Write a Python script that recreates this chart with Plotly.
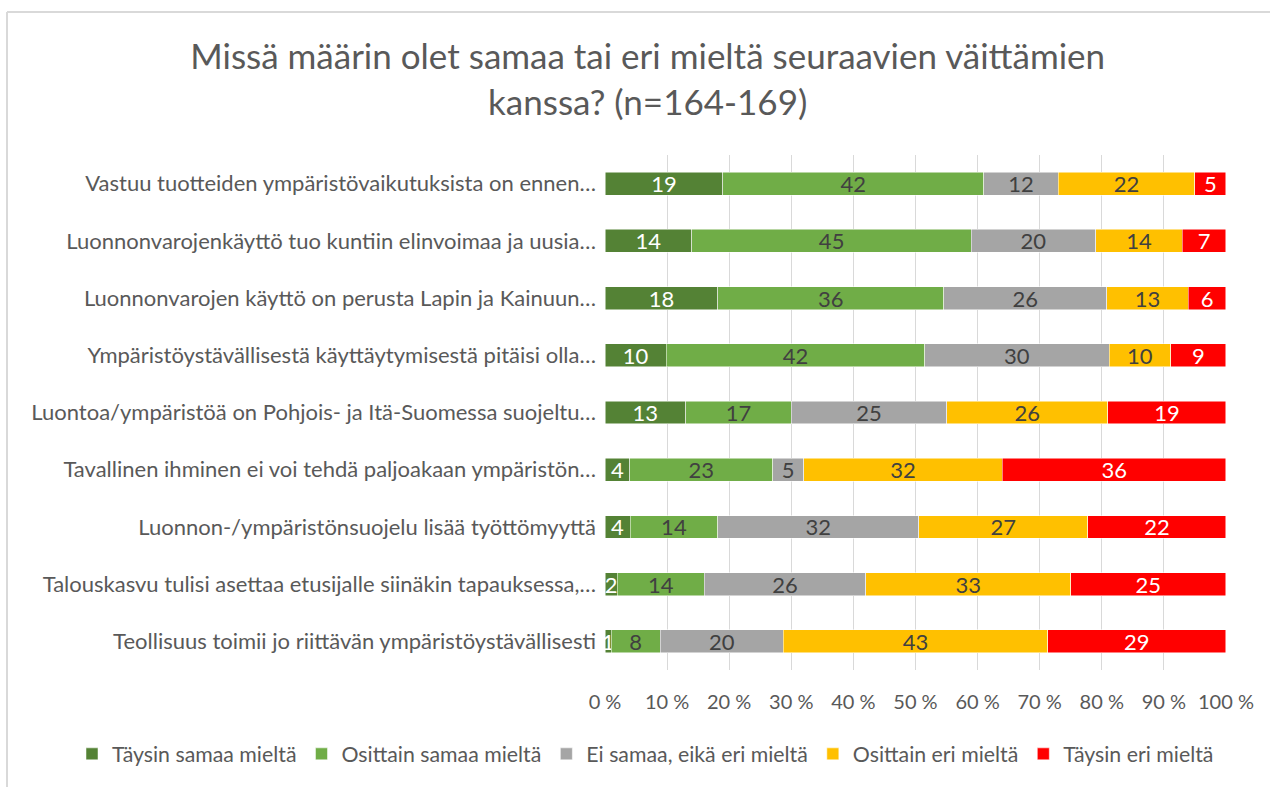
import plotly.graph_objects as go

categories = [
    "Vastuu tuotteiden ympäristövaikutuksista on ennen…",
    "Luonnonvarojenkäyttö tuo kuntiin elinvoimaa ja uusia…",
    "Luonnonvarojen käyttö on perusta Lapin ja Kainuun…",
    "Ympäristöystävällisestä käyttäytymisestä pitäisi olla…",
    "Luontoa/ympäristöä on Pohjois- ja Itä-Suomessa suojeltu…",
    "Tavallinen ihminen ei voi tehdä paljoakaan ympäristön…",
    "Luonnon-/ympäristönsuojelu lisää työttömyyttä",
    "Talouskasvu tulisi asettaa etusijalle siinäkin tapauksessa,…",
    "Teollisuus toimii jo riittävän ympäristöystävällisesti",
]
series_names = ["Täysin samaa mieltä", "Osittain samaa mieltä", "Ei samaa, eikä eri mieltä",
                "Osittain eri mieltä", "Täysin eri mieltä"]
taysin_samaa = [19, 14, 18, 10, 13, 4, 4, 2, 1]
osittain_samaa = [42, 45, 36, 42, 17, 23, 14, 14, 8]
ei_samaa_eri = [12, 20, 26, 30, 25, 5, 32, 26, 20]
osittain_eri = [22, 14, 13, 10, 26, 32, 27, 33, 43]
taysin_eri = [5, 7, 6, 9, 19, 36, 22, 25, 29]
tick_values = [0, 10, 20, 30, 40, 50, 60, 70, 80, 90, 100]
tick_labels = [f"{v} %" for v in tick_values]

series_values = [taysin_samaa, osittain_samaa, ei_samaa_eri, osittain_eri, taysin_eri]
colors = ["#548235", "#70AD47", "#A5A5A5", "#FFC000", "#FF0000"]
text_colors = ["#FFFFFF", "#404040", "#404040", "#404040", "#FFFFFF"]

FONT = "Lato"
GREY = "#595959"

fig = go.Figure()
for name, vals, col, tcol in zip(series_names, series_values, colors, text_colors):
    fig.add_trace(go.Bar(
        y=categories, x=vals, name=name, orientation="h",
        marker=dict(color=col, line=dict(color="white", width=0.5)),
        text=[str(v) for v in vals], textposition="inside",
        insidetextanchor="middle", textangle=0,
        textfont=dict(color=tcol, size=22, family=FONT),
        cliponaxis=False,
    ))

W, H = 1270, 787
L, R, T, B = 605, 44, 155, 117
pw, ph = W - L - R, H - T - B

def px_x(x):
    return (x - L) / pw

def px_y(y):
    return 1 - (y - T) / ph

fig.update_layout(
    width=W, height=H,
    barmode="stack", barnorm="percent", bargap=0.6,
    margin=dict(l=L, r=R, t=T, b=B, autoexpand=False),
    paper_bgcolor="white", plot_bgcolor="white",
    font=dict(family=FONT, color=GREY, size=21),
    title=dict(text="Missä määrin olet samaa tai eri mieltä seuraavien väittämien<br>kanssa? (n=164-169)",
               x=0.51, xref="container", xanchor="center",
               y=1 - 69 / H, yref="container", yanchor="middle",
               font=dict(size=35, color=GREY, family=FONT)),
    uniformtext=dict(minsize=22, mode="show"),
    legend=dict(orientation="h", x=px_x(72), xref="paper", xanchor="left",
                y=px_y(754), yref="paper", yanchor="middle",
                bgcolor="rgba(0,0,0,0)",
                font=dict(size=21.3, color=GREY, family=FONT), traceorder="normal",
                itemwidth=30, tracegroupgap=0),
    showlegend=True,
)
fig.update_xaxes(range=[0, 100.01], tickvals=tick_values, ticktext=tick_labels,
                 showgrid=True, gridcolor="#D9D9D9", gridwidth=1.3,
                 zeroline=False, showline=False, ticks="",
                 ticklabelstandoff=18, tickfont=dict(size=20, color=GREY, family=FONT),
                 fixedrange=True)
fig.update_yaxes(autorange="reversed", showgrid=False, showline=False, ticks="",
                 ticklabelstandoff=8, tickfont=dict(size=22, color=GREY, family=FONT),
                 automargin=False, fixedrange=True)

# outer chart frame (top and left edges visible)
fig.add_shape(type="line", xref="paper", yref="paper",
              x0=px_x(7), x1=px_x(W + 5), y0=px_y(12), y1=px_y(12),
              line=dict(color="#D9D9D9", width=2))
fig.add_shape(type="line", xref="paper", yref="paper",
              x0=px_x(7), x1=px_x(7), y0=px_y(12), y1=px_y(H + 5),
              line=dict(color="#D9D9D9", width=2))

fig.write_html("out.html", config={"displayModeBar": False},
               post_script="document.body.style.margin='0px';")
